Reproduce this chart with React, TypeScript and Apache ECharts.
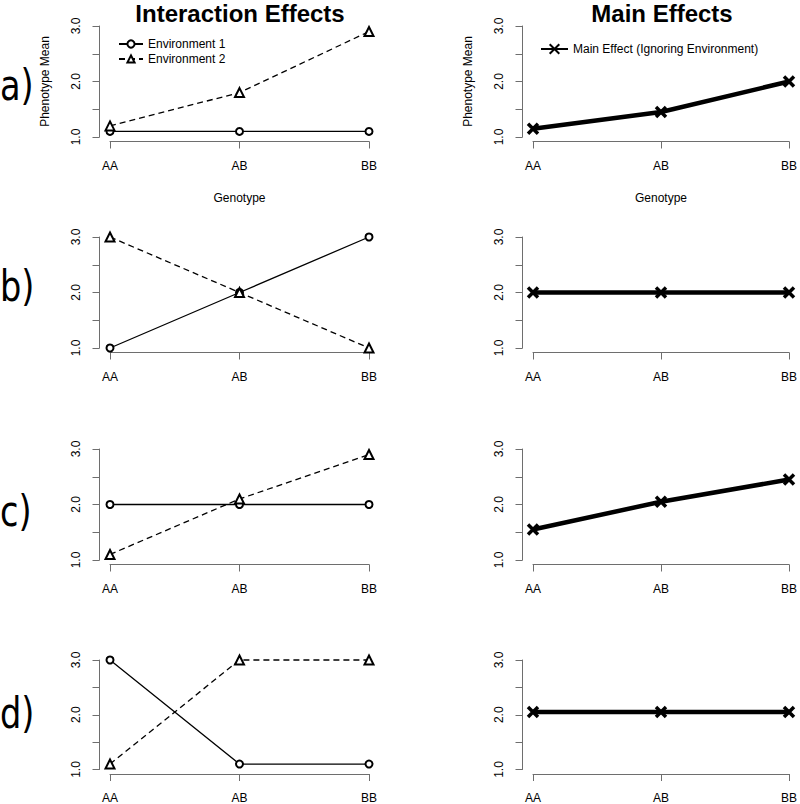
import React, { useEffect, useRef } from "react";
import * as echarts from "echarts";

// ---- data ----
const genotypes = ["AA", "AB", "BB"];
const yTicks = [1.0, 2.0, 3.0];

const env1A = [1.1, 1.1, 1.1];
const env2A = [1.2, 1.8, 2.9];
const mainA = [1.15, 1.45, 2.0];

const env1B = [1.0, 2.0, 3.0];
const env2B = [3.0, 2.0, 1.0];
const mainB = [2.0, 2.0, 2.0];

const env1C = [2.0, 2.0, 2.0];
const env2C = [1.1, 2.1, 2.9];
const mainC = [1.55, 2.05, 2.45];

const env1D = [3.0, 1.1, 1.1];
const env2D = [1.1, 3.0, 3.0];
const mainD = [2.05, 2.05, 2.05];

const rowLabels = ["a)", "b)", "c)", "d)"];
const titles = ["Interaction Effects", "Main Effects"];
const envNames = ["Environment 1", "Environment 2"];
const mainName = "Main Effect (Ignoring Environment)";
const xName = "Genotype";
const yName = "Phenotype Mean";

const panels = [
  { env1: env1A, env2: env2A, main: mainA },
  { env1: env1B, env2: env2B, main: mainB },
  { env1: env1C, env2: env2C, main: mainC },
  { env1: env1D, env2: env2D, main: mainD },
];

const FONT = "Liberation Sans, Arial, Helvetica, sans-serif";
const AXIS_COLOR = "#6e6e6e";
const ROW_TOPS = [26, 237, 449, 660];
const ROW_H = 111;
const ROW_LABEL_Y = [86, 287, 512, 714];
const COLS = [
  { left: 110, width: 259 },
  { left: 533, width: 258 },
];
const CROSS = "path://M0,0L10,10M0,10L10,0";

export default function App() {
  const ref = useRef<HTMLDivElement>(null);

  useEffect(() => {
    if (!ref.current) return;
    const chart = echarts.init(ref.current, undefined, { renderer: "svg" });

    const grids: any[] = [];
    const xAxes: any[] = [];
    const yAxes: any[] = [];
    const series: any[] = [];

    panels.forEach((p, r) => {
      COLS.forEach((c, col) => {
        const gi = grids.length;
        grids.push({ left: c.left, width: c.width, top: ROW_TOPS[r], height: ROW_H });
        xAxes.push({
          gridIndex: gi,
          type: "category",
          data: genotypes,
          boundaryGap: false,
          offset: 4.5,
          name: r === 0 ? xName : "",
          nameLocation: "middle",
          nameGap: 50,
          nameTextStyle: { fontFamily: FONT, fontSize: 12, color: "#000" },
          axisLine: { lineStyle: { color: AXIS_COLOR, width: 1 } },
          axisTick: { show: true, length: 7, lineStyle: { color: AXIS_COLOR } },
          axisLabel: { margin: 18, fontFamily: FONT, fontSize: 12, color: "#000" },
          splitLine: { show: false },
        });
        yAxes.push({
          gridIndex: gi,
          type: "value",
          min: 1,
          max: 3,
          interval: 0.5,
          offset: 10.5,
          name: r === 0 ? yName : "",
          nameLocation: "middle",
          nameGap: 49,
          nameTextStyle: { fontFamily: FONT, fontSize: 12, color: "#000" },
          axisLine: { show: true, lineStyle: { color: AXIS_COLOR, width: 1 } },
          axisTick: { show: true, length: 7, lineStyle: { color: AXIS_COLOR } },
          axisLabel: {
            rotate: 90,
            margin: 18,
            fontFamily: FONT,
            fontSize: 12,
            color: "#000",
            formatter: (v: number) =>
              yTicks.some((t) => Math.abs(t - v) < 1e-9) ? v.toFixed(1) : "",
          },
          splitLine: { show: false },
        });
        if (col === 0) {
          series.push({
            type: "line",
            name: envNames[0],
            xAxisIndex: gi,
            yAxisIndex: gi,
            data: p.env1,
            symbol: "emptyCircle",
            symbolSize: 7,
            clip: false,
            lineStyle: { color: "#000", width: 1.3, type: "solid" },
            itemStyle: { color: "#000", borderWidth: 1.2 },
            z: 3,
          });
          series.push({
            type: "line",
            name: envNames[1],
            xAxisIndex: gi,
            yAxisIndex: gi,
            data: p.env2,
            symbol: "emptyTriangle",
            symbolSize: 9,
            clip: false,
            lineStyle: { color: "#000", width: 1.3, type: [6, 4] },
            itemStyle: { color: "#000", borderWidth: 1.2 },
            z: 4,
          });
        } else {
          series.push({
            type: "line",
            name: mainName,
            xAxisIndex: gi,
            yAxisIndex: gi,
            data: p.main,
            symbol: CROSS,
            symbolSize: 10,
            clip: false,
            lineStyle: { color: "#000", width: 4.5 },
            itemStyle: { color: "#000", borderColor: "#000", borderWidth: 3.5 },
            z: 3,
          });
        }
      });
    });

    const graphics: any[] = [
      {
        type: "text",
        x: 240,
        y: 13,
        style: {
          text: titles[0],
          fontFamily: FONT,
          fontSize: 24,
          fontWeight: "bold",
          fill: "#000",
          align: "center",
          verticalAlign: "middle",
        },
      },
      {
        type: "text",
        x: 662,
        y: 13,
        style: {
          text: titles[1],
          fontFamily: FONT,
          fontSize: 24,
          fontWeight: "bold",
          fill: "#000",
          align: "center",
          verticalAlign: "middle",
        },
      },
    ];
    rowLabels.forEach((t, r) => {
      graphics.push({
        type: "text",
        x: 0,
        y: ROW_LABEL_Y[r],
        scaleX: 0.8,
        style: {
          text: t,
          fontFamily: "DejaVu Sans, sans-serif",
          fontSize: 42,
          fill: "#000",
          align: "left",
          verticalAlign: "middle",
        },
      });
    });

    chart.setOption({
      animation: false,
      backgroundColor: "#fff",
      grid: grids,
      xAxis: xAxes,
      yAxis: yAxes,
      series,
      legend: [
        {
          data: envNames,
          left: 113,
          top: 33,
          orient: "vertical",
          itemWidth: 24,
          itemHeight: 9,
          itemGap: 3,
          selectedMode: false,
          textStyle: { fontFamily: FONT, fontSize: 12, color: "#000" },
        },
        {
          data: [mainName],
          left: 535,
          top: 38,
          orient: "vertical",
          itemWidth: 27,
          itemHeight: 12,
          selectedMode: false,
          textStyle: { fontFamily: FONT, fontSize: 12, color: "#000" },
        },
      ],
      graphic: graphics,
    });

    return () => chart.dispose();
  }, []);

  return (
    <div
      ref={ref}
      style={{ position: "fixed", left: 0, top: 0, width: 800, height: 804, background: "#fff" }}
    />
  );
}
